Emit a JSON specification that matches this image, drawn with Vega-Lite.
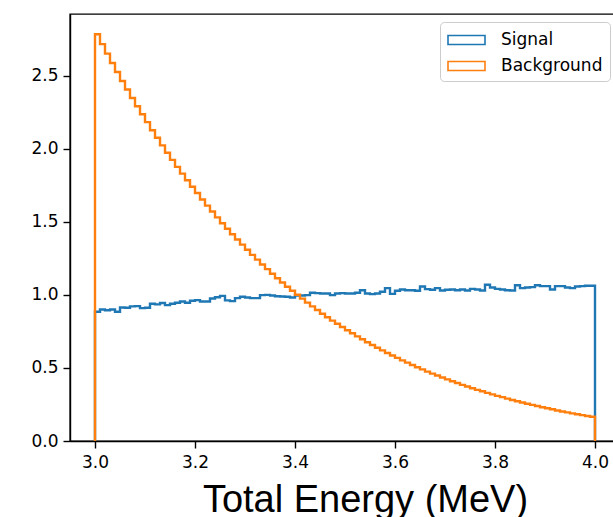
{
  "$schema": "https://vega.github.io/schema/vega-lite/v6.json",
  "width": 550,
  "height": 427,
  "autosize": {"type": "none"},
  "padding": {"left": 70, "top": 14, "right": 0, "bottom": 76},
  "background": "white",
  "config": {"view": {"stroke": "black", "strokeWidth": 1.4}, "font": "DejaVu Sans"},
  "data": {"values": [
    {"series":"Signal","k":0,"energy":3.00,"density":0},
    {"series":"Signal","k":1,"energy":3.00,"density":0.884},
    {"series":"Signal","k":2,"energy":3.01,"density":0.900},
    {"series":"Signal","k":3,"energy":3.02,"density":0.895},
    {"series":"Signal","k":4,"energy":3.03,"density":0.900},
    {"series":"Signal","k":5,"energy":3.04,"density":0.884},
    {"series":"Signal","k":6,"energy":3.05,"density":0.914},
    {"series":"Signal","k":7,"energy":3.06,"density":0.912},
    {"series":"Signal","k":8,"energy":3.07,"density":0.921},
    {"series":"Signal","k":9,"energy":3.08,"density":0.923},
    {"series":"Signal","k":10,"energy":3.09,"density":0.909},
    {"series":"Signal","k":11,"energy":3.10,"density":0.912},
    {"series":"Signal","k":12,"energy":3.11,"density":0.939},
    {"series":"Signal","k":13,"energy":3.12,"density":0.935},
    {"series":"Signal","k":14,"energy":3.13,"density":0.944},
    {"series":"Signal","k":15,"energy":3.14,"density":0.930},
    {"series":"Signal","k":16,"energy":3.15,"density":0.939},
    {"series":"Signal","k":17,"energy":3.16,"density":0.946},
    {"series":"Signal","k":18,"energy":3.17,"density":0.955},
    {"series":"Signal","k":19,"energy":3.18,"density":0.946},
    {"series":"Signal","k":20,"energy":3.19,"density":0.960},
    {"series":"Signal","k":21,"energy":3.20,"density":0.964},
    {"series":"Signal","k":22,"energy":3.21,"density":0.955},
    {"series":"Signal","k":23,"energy":3.22,"density":0.955},
    {"series":"Signal","k":24,"energy":3.23,"density":0.975},
    {"series":"Signal","k":25,"energy":3.24,"density":0.984},
    {"series":"Signal","k":26,"energy":3.25,"density":0.993},
    {"series":"Signal","k":27,"energy":3.26,"density":0.962},
    {"series":"Signal","k":28,"energy":3.27,"density":0.957},
    {"series":"Signal","k":29,"energy":3.28,"density":0.978},
    {"series":"Signal","k":30,"energy":3.29,"density":0.987},
    {"series":"Signal","k":31,"energy":3.30,"density":0.982},
    {"series":"Signal","k":32,"energy":3.31,"density":0.978},
    {"series":"Signal","k":33,"energy":3.32,"density":0.978},
    {"series":"Signal","k":34,"energy":3.33,"density":0.998},
    {"series":"Signal","k":35,"energy":3.34,"density":1.000},
    {"series":"Signal","k":36,"energy":3.35,"density":0.996},
    {"series":"Signal","k":37,"energy":3.36,"density":0.991},
    {"series":"Signal","k":38,"energy":3.37,"density":0.989},
    {"series":"Signal","k":39,"energy":3.38,"density":0.987},
    {"series":"Signal","k":40,"energy":3.39,"density":0.982},
    {"series":"Signal","k":41,"energy":3.40,"density":0.996},
    {"series":"Signal","k":42,"energy":3.41,"density":0.996},
    {"series":"Signal","k":43,"energy":3.42,"density":0.998},
    {"series":"Signal","k":44,"energy":3.43,"density":1.014},
    {"series":"Signal","k":45,"energy":3.44,"density":1.012},
    {"series":"Signal","k":46,"energy":3.45,"density":1.009},
    {"series":"Signal","k":47,"energy":3.46,"density":1.009},
    {"series":"Signal","k":48,"energy":3.47,"density":0.998},
    {"series":"Signal","k":49,"energy":3.48,"density":1.009},
    {"series":"Signal","k":50,"energy":3.49,"density":1.012},
    {"series":"Signal","k":51,"energy":3.50,"density":1.009},
    {"series":"Signal","k":52,"energy":3.51,"density":1.009},
    {"series":"Signal","k":53,"energy":3.52,"density":1.014},
    {"series":"Signal","k":54,"energy":3.53,"density":1.032},
    {"series":"Signal","k":55,"energy":3.54,"density":1.009},
    {"series":"Signal","k":56,"energy":3.55,"density":1.005},
    {"series":"Signal","k":57,"energy":3.56,"density":1.009},
    {"series":"Signal","k":58,"energy":3.57,"density":1.021},
    {"series":"Signal","k":59,"energy":3.58,"density":1.046},
    {"series":"Signal","k":60,"energy":3.59,"density":1.007},
    {"series":"Signal","k":61,"energy":3.60,"density":1.028},
    {"series":"Signal","k":62,"energy":3.61,"density":1.037},
    {"series":"Signal","k":63,"energy":3.62,"density":1.032},
    {"series":"Signal","k":64,"energy":3.63,"density":1.032},
    {"series":"Signal","k":65,"energy":3.64,"density":1.028},
    {"series":"Signal","k":66,"energy":3.65,"density":1.057},
    {"series":"Signal","k":67,"energy":3.66,"density":1.039},
    {"series":"Signal","k":68,"energy":3.67,"density":1.035},
    {"series":"Signal","k":69,"energy":3.68,"density":1.046},
    {"series":"Signal","k":70,"energy":3.69,"density":1.030},
    {"series":"Signal","k":71,"energy":3.70,"density":1.035},
    {"series":"Signal","k":72,"energy":3.71,"density":1.037},
    {"series":"Signal","k":73,"energy":3.72,"density":1.032},
    {"series":"Signal","k":74,"energy":3.73,"density":1.037},
    {"series":"Signal","k":75,"energy":3.74,"density":1.030},
    {"series":"Signal","k":76,"energy":3.75,"density":1.041},
    {"series":"Signal","k":77,"energy":3.76,"density":1.037},
    {"series":"Signal","k":78,"energy":3.77,"density":1.030},
    {"series":"Signal","k":79,"energy":3.78,"density":1.069},
    {"series":"Signal","k":80,"energy":3.79,"density":1.050},
    {"series":"Signal","k":81,"energy":3.80,"density":1.041},
    {"series":"Signal","k":82,"energy":3.81,"density":1.037},
    {"series":"Signal","k":83,"energy":3.82,"density":1.032},
    {"series":"Signal","k":84,"energy":3.83,"density":1.030},
    {"series":"Signal","k":85,"energy":3.84,"density":1.066},
    {"series":"Signal","k":86,"energy":3.85,"density":1.046},
    {"series":"Signal","k":87,"energy":3.86,"density":1.050},
    {"series":"Signal","k":88,"energy":3.87,"density":1.053},
    {"series":"Signal","k":89,"energy":3.88,"density":1.066},
    {"series":"Signal","k":90,"energy":3.89,"density":1.060},
    {"series":"Signal","k":91,"energy":3.90,"density":1.060},
    {"series":"Signal","k":92,"energy":3.91,"density":1.037},
    {"series":"Signal","k":93,"energy":3.92,"density":1.060},
    {"series":"Signal","k":94,"energy":3.93,"density":1.060},
    {"series":"Signal","k":95,"energy":3.94,"density":1.050},
    {"series":"Signal","k":96,"energy":3.95,"density":1.046},
    {"series":"Signal","k":97,"energy":3.96,"density":1.057},
    {"series":"Signal","k":98,"energy":3.97,"density":1.060},
    {"series":"Signal","k":99,"energy":3.98,"density":1.062},
    {"series":"Signal","k":100,"energy":3.99,"density":1.062},
    {"series":"Signal","k":101,"energy":4.00,"density":1.062},
    {"series":"Signal","k":102,"energy":4.00,"density":0},
    {"series":"Background","k":0,"energy":3.00,"density":0},
    {"series":"Background","k":1,"energy":3.00,"density":2.783},
    {"series":"Background","k":2,"energy":3.01,"density":2.716},
    {"series":"Background","k":3,"energy":3.02,"density":2.651},
    {"series":"Background","k":4,"energy":3.03,"density":2.587},
    {"series":"Background","k":5,"energy":3.04,"density":2.525},
    {"series":"Background","k":6,"energy":3.05,"density":2.464},
    {"series":"Background","k":7,"energy":3.06,"density":2.405},
    {"series":"Background","k":8,"energy":3.07,"density":2.347},
    {"series":"Background","k":9,"energy":3.08,"density":2.291},
    {"series":"Background","k":10,"energy":3.09,"density":2.236},
    {"series":"Background","k":11,"energy":3.10,"density":2.182},
    {"series":"Background","k":12,"energy":3.11,"density":2.127},
    {"series":"Background","k":13,"energy":3.12,"density":2.075},
    {"series":"Background","k":14,"energy":3.13,"density":2.023},
    {"series":"Background","k":15,"energy":3.14,"density":1.973},
    {"series":"Background","k":16,"energy":3.15,"density":1.924},
    {"series":"Background","k":17,"energy":3.16,"density":1.876},
    {"series":"Background","k":18,"energy":3.17,"density":1.830},
    {"series":"Background","k":19,"energy":3.18,"density":1.784},
    {"series":"Background","k":20,"energy":3.19,"density":1.740},
    {"series":"Background","k":21,"energy":3.20,"density":1.697},
    {"series":"Background","k":22,"energy":3.21,"density":1.653},
    {"series":"Background","k":23,"energy":3.22,"density":1.611},
    {"series":"Background","k":24,"energy":3.23,"density":1.570},
    {"series":"Background","k":25,"energy":3.24,"density":1.530},
    {"series":"Background","k":26,"energy":3.25,"density":1.490},
    {"series":"Background","k":27,"energy":3.26,"density":1.452},
    {"series":"Background","k":28,"energy":3.27,"density":1.415},
    {"series":"Background","k":29,"energy":3.28,"density":1.379},
    {"series":"Background","k":30,"energy":3.29,"density":1.344},
    {"series":"Background","k":31,"energy":3.30,"density":1.309},
    {"series":"Background","k":32,"energy":3.31,"density":1.274},
    {"series":"Background","k":33,"energy":3.32,"density":1.241},
    {"series":"Background","k":34,"energy":3.33,"density":1.208},
    {"series":"Background","k":35,"energy":3.34,"density":1.176},
    {"series":"Background","k":36,"energy":3.35,"density":1.145},
    {"series":"Background","k":37,"energy":3.36,"density":1.114},
    {"series":"Background","k":38,"energy":3.37,"density":1.085},
    {"series":"Background","k":39,"energy":3.38,"density":1.056},
    {"series":"Background","k":40,"energy":3.39,"density":1.028},
    {"series":"Background","k":41,"energy":3.40,"density":1.001},
    {"series":"Background","k":42,"energy":3.41,"density":0.974},
    {"series":"Background","k":43,"energy":3.42,"density":0.947},
    {"series":"Background","k":44,"energy":3.43,"density":0.921},
    {"series":"Background","k":45,"energy":3.44,"density":0.896},
    {"series":"Background","k":46,"energy":3.45,"density":0.871},
    {"series":"Background","k":47,"energy":3.46,"density":0.847},
    {"series":"Background","k":48,"energy":3.47,"density":0.824},
    {"series":"Background","k":49,"energy":3.48,"density":0.802},
    {"series":"Background","k":50,"energy":3.49,"density":0.780},
    {"series":"Background","k":51,"energy":3.50,"density":0.758},
    {"series":"Background","k":52,"energy":3.51,"density":0.737},
    {"series":"Background","k":53,"energy":3.52,"density":0.716},
    {"series":"Background","k":54,"energy":3.53,"density":0.696},
    {"series":"Background","k":55,"energy":3.54,"density":0.676},
    {"series":"Background","k":56,"energy":3.55,"density":0.657},
    {"series":"Background","k":57,"energy":3.56,"density":0.638},
    {"series":"Background","k":58,"energy":3.57,"density":0.620},
    {"series":"Background","k":59,"energy":3.58,"density":0.602},
    {"series":"Background","k":60,"energy":3.59,"density":0.585},
    {"series":"Background","k":61,"energy":3.60,"density":0.569},
    {"series":"Background","k":62,"energy":3.61,"density":0.552},
    {"series":"Background","k":63,"energy":3.62,"density":0.536},
    {"series":"Background","k":64,"energy":3.63,"density":0.520},
    {"series":"Background","k":65,"energy":3.64,"density":0.505},
    {"series":"Background","k":66,"energy":3.65,"density":0.490},
    {"series":"Background","k":67,"energy":3.66,"density":0.475},
    {"series":"Background","k":68,"energy":3.67,"density":0.461},
    {"series":"Background","k":69,"energy":3.68,"density":0.448},
    {"series":"Background","k":70,"energy":3.69,"density":0.435},
    {"series":"Background","k":71,"energy":3.70,"density":0.422},
    {"series":"Background","k":72,"energy":3.71,"density":0.409},
    {"series":"Background","k":73,"energy":3.72,"density":0.397},
    {"series":"Background","k":74,"energy":3.73,"density":0.384},
    {"series":"Background","k":75,"energy":3.74,"density":0.373},
    {"series":"Background","k":76,"energy":3.75,"density":0.361},
    {"series":"Background","k":77,"energy":3.76,"density":0.350},
    {"series":"Background","k":78,"energy":3.77,"density":0.340},
    {"series":"Background","k":79,"energy":3.78,"density":0.329},
    {"series":"Background","k":80,"energy":3.79,"density":0.319},
    {"series":"Background","k":81,"energy":3.80,"density":0.309},
    {"series":"Background","k":82,"energy":3.81,"density":0.300},
    {"series":"Background","k":83,"energy":3.82,"density":0.290},
    {"series":"Background","k":84,"energy":3.83,"density":0.281},
    {"series":"Background","k":85,"energy":3.84,"density":0.272},
    {"series":"Background","k":86,"energy":3.85,"density":0.263},
    {"series":"Background","k":87,"energy":3.86,"density":0.255},
    {"series":"Background","k":88,"energy":3.87,"density":0.247},
    {"series":"Background","k":89,"energy":3.88,"density":0.239},
    {"series":"Background","k":90,"energy":3.89,"density":0.231},
    {"series":"Background","k":91,"energy":3.90,"density":0.224},
    {"series":"Background","k":92,"energy":3.91,"density":0.217},
    {"series":"Background","k":93,"energy":3.92,"density":0.209},
    {"series":"Background","k":94,"energy":3.93,"density":0.202},
    {"series":"Background","k":95,"energy":3.94,"density":0.196},
    {"series":"Background","k":96,"energy":3.95,"density":0.189},
    {"series":"Background","k":97,"energy":3.96,"density":0.183},
    {"series":"Background","k":98,"energy":3.97,"density":0.177},
    {"series":"Background","k":99,"energy":3.98,"density":0.171},
    {"series":"Background","k":100,"energy":3.99,"density":0.166},
    {"series":"Background","k":101,"energy":4.00,"density":0.166},
    {"series":"Background","k":102,"energy":4.00,"density":0}
  ]},
  "encoding": {
    "x": {
      "field": "energy", "type": "quantitative",
      "scale": {"domain": [2.95, 4.05], "nice": false, "zero": false},
      "axis": {
        "values": [3.0, 3.2, 3.4, 3.6, 3.8, 4.0], "format": ".1f", "grid": false,
        "labelFont": "DejaVu Sans", "labelFontSize": 17, "labelColor": "black", "labelPadding": 6,
        "tickColor": "black", "tickSize": 7, "tickWidth": 1.4, "domainColor": "black", "domainWidth": 1.4,
        "title": "Total Energy (MeV)", "titleFont": "Liberation Sans", "titleFontSize": 38,
        "titleFontWeight": "normal", "titleColor": "black", "titleX": 295, "titleY": 70,
        "titleAlign": "center", "titleBaseline": "alphabetic", "titleAnchor": null
      }
    },
    "y": {
      "field": "density", "type": "quantitative",
      "scale": {"domain": [0, 2.922], "nice": false, "zero": true},
      "axis": {
        "values": [0, 0.5, 1.0, 1.5, 2.0, 2.5], "format": ".1f", "grid": false, "title": null,
        "labelFont": "DejaVu Sans", "labelFontSize": 17, "labelColor": "black", "labelPadding": 5,
        "tickColor": "black", "tickSize": 7, "tickWidth": 1.4, "domainColor": "black", "domainWidth": 1.4
      }
    },
    "color": {
      "field": "series", "type": "nominal",
      "scale": {"domain": ["Signal", "Background"], "range": ["#1f77b4", "#ff7f0e"]},
      "legend": {
        "orient": "none", "legendX": 370, "legendY": 8, "title": null,
        "labelFont": "DejaVu Sans", "labelFontSize": 17, "labelColor": "black", "labelOffset": 32,
        "symbolType": "M-1,-0.45H2.7V0.45H-1Z", "symbolSize": 400, "symbolStrokeWidth": 1.6,
        "symbolFillColor": "transparent",
        "padding": 7, "rowPadding": 7, "strokeColor": "#cccccc", "fillColor": "white", "cornerRadius": 4
      }
    },
    "order": {"field": "k", "type": "quantitative"}
  },
  "layer": [
    {
      "transform": [{"filter": "datum.series === 'Signal'"}],
      "mark": {"type": "line", "interpolate": "step-after", "strokeWidth": 2.4, "clip": true}
    },
    {
      "transform": [{"filter": "datum.series === 'Background'"}],
      "mark": {"type": "line", "interpolate": "step-after", "strokeWidth": 2.4, "clip": true}
    }
  ]
}
